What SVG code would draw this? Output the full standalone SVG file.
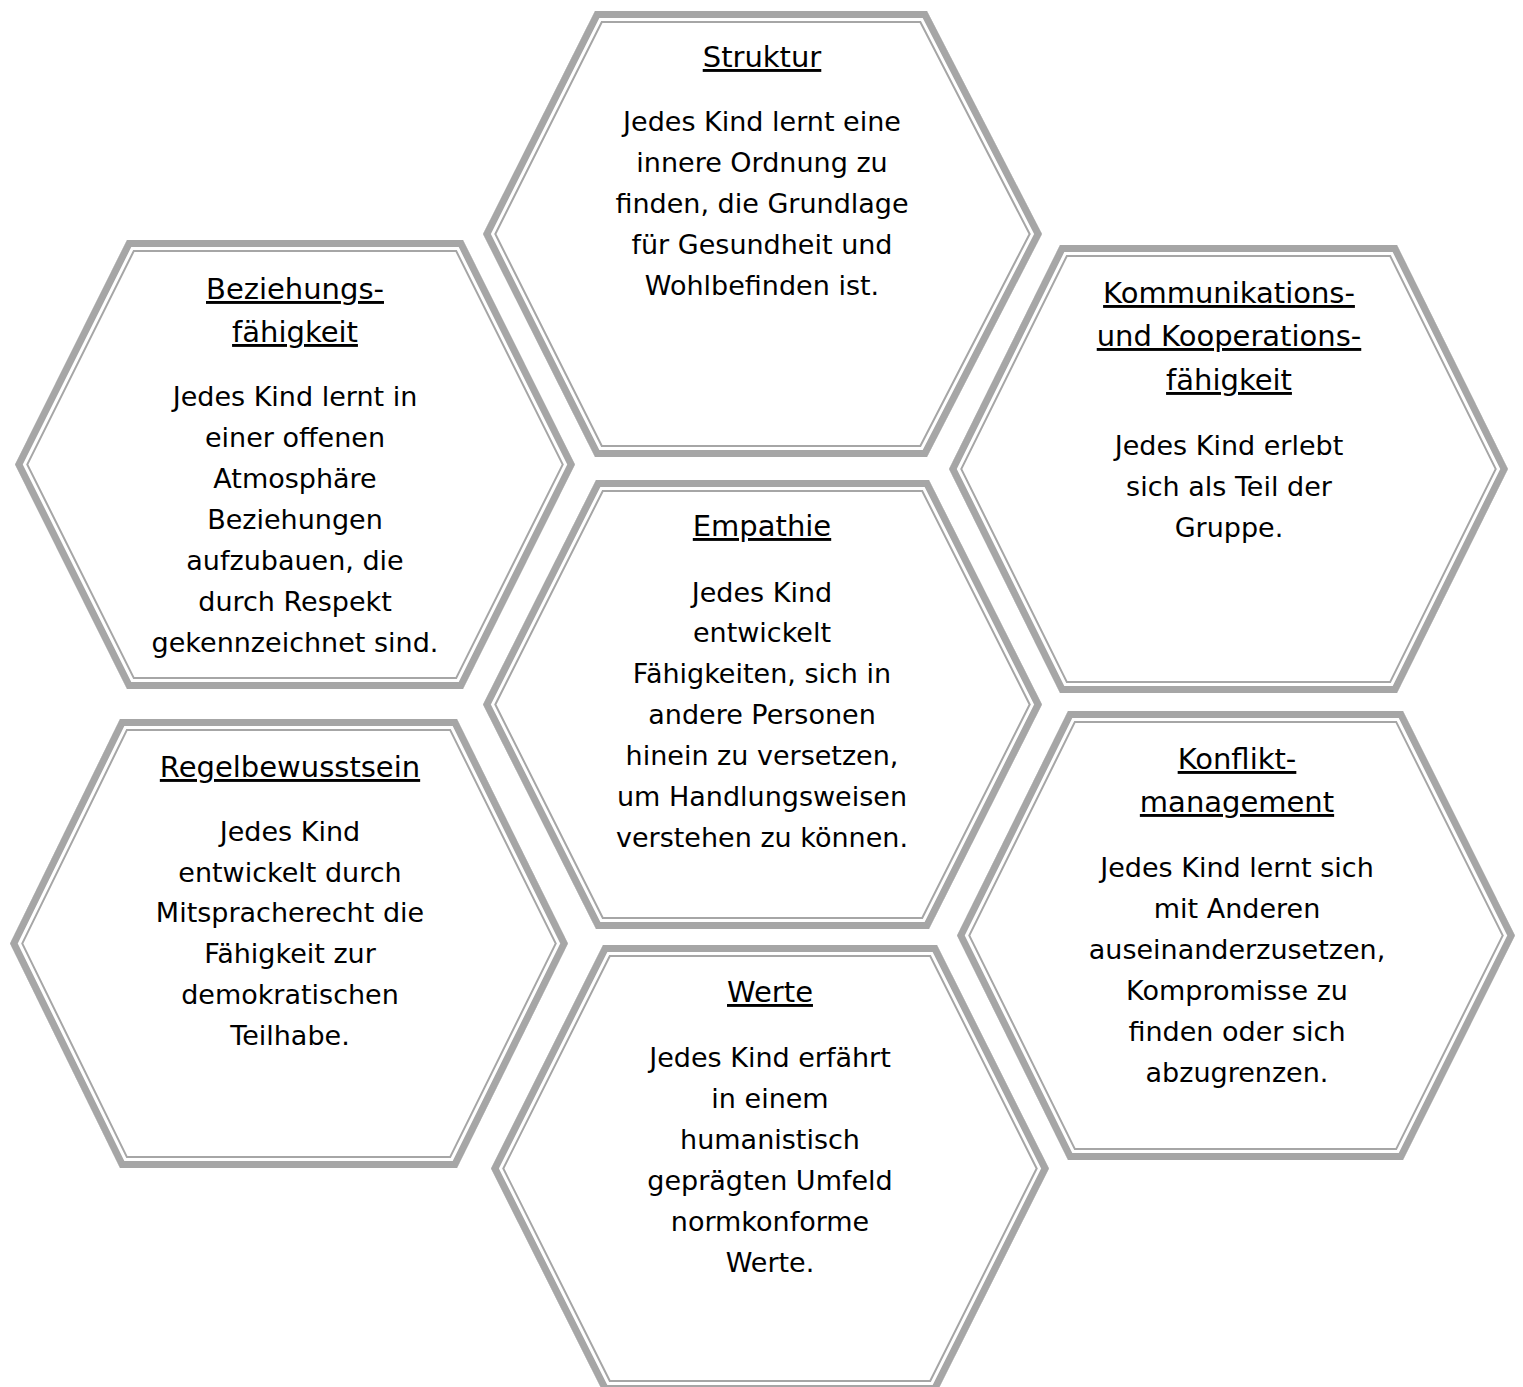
<svg xmlns="http://www.w3.org/2000/svg" xmlns:xlink="http://www.w3.org/1999/xlink" width="1523" height="1387" viewBox="0 0 1523 1387">
<style>
.bg{fill:#fff}
.f{fill:#fff;stroke:none}
.s1{fill:none;stroke:#a6a6a6;stroke-width:24;stroke-linejoin:miter}
.s2{fill:none;stroke:#fff;stroke-width:20;stroke-linejoin:miter}
.s3{fill:none;stroke:#a6a6a6;stroke-width:14;stroke-linejoin:miter}
text{font-family:"DejaVu Sans","Liberation Sans",sans-serif;font-size:27px;fill:#000;text-anchor:middle}
.h{text-decoration:underline;font-size:29px}
</style>
<defs>
<polygon id="p1" points="595,11 927,11 1042,234 927,457 595,457 483,234"/>
<polygon id="p2" points="127,240 463,240 575,464.5 463,689 127,689 15,464.5"/>
<polygon id="p3" points="1060,245 1397,245 1508,469 1397,693 1060,693 949,469"/>
<polygon id="p4" points="596,480 929,480 1042,704.5 929,929 596,929 483,704.5"/>
<polygon id="p5" points="120,719 457,719 568,943.5 457,1168 120,1168 10,943.5"/>
<polygon id="p6" points="1068,711 1403,711 1515,935.5 1403,1160 1068,1160 957,935.5"/>
<polygon id="p7" points="603,945 937,945 1049,1168.5 937,1392 603,1392 491,1168.5"/>
<clipPath id="c1"><use xlink:href="#p1"/></clipPath>
<clipPath id="c2"><use xlink:href="#p2"/></clipPath>
<clipPath id="c3"><use xlink:href="#p3"/></clipPath>
<clipPath id="c4"><use xlink:href="#p4"/></clipPath>
<clipPath id="c5"><use xlink:href="#p5"/></clipPath>
<clipPath id="c6"><use xlink:href="#p6"/></clipPath>
<clipPath id="c7"><use xlink:href="#p7"/></clipPath>
</defs>
<rect class="bg" x="0" y="0" width="1523" height="1387"/>
<g id="connectors"></g>

<g id="struktur">
<use xlink:href="#p1" class="f"/>
<g clip-path="url(#c1)"><use xlink:href="#p1" class="s1"/><use xlink:href="#p1" class="s2"/><use xlink:href="#p1" class="s3"/></g>
<text x="762" y="67" class="h">Struktur</text>
<text x="762" y="131">Jedes Kind lernt eine</text>
<text x="762" y="172">innere Ordnung zu</text>
<text x="762" y="213">finden, die Grundlage</text>
<text x="762" y="254">für Gesundheit und</text>
<text x="762" y="295">Wohlbefinden ist.</text>
</g>

<g id="beziehung">
<use xlink:href="#p2" class="f"/>
<g clip-path="url(#c2)"><use xlink:href="#p2" class="s1"/><use xlink:href="#p2" class="s2"/><use xlink:href="#p2" class="s3"/></g>
<text x="295" y="299" class="h">Beziehungs-</text>
<text x="295" y="342" class="h">fähigkeit</text>
<text x="295" y="406">Jedes Kind lernt in</text>
<text x="295" y="447">einer offenen</text>
<text x="295" y="488">Atmosphäre</text>
<text x="295" y="529">Beziehungen</text>
<text x="295" y="570">aufzubauen, die</text>
<text x="295" y="611">durch Respekt</text>
<text x="295" y="652">gekennzeichnet sind.</text>
</g>

<g id="kommunikation">
<use xlink:href="#p3" class="f"/>
<g clip-path="url(#c3)"><use xlink:href="#p3" class="s1"/><use xlink:href="#p3" class="s2"/><use xlink:href="#p3" class="s3"/></g>
<text x="1229" y="303" class="h">Kommunikations-</text>
<text x="1229" y="346" class="h">und Kooperations-</text>
<text x="1229" y="390" class="h">fähigkeit</text>
<text x="1229" y="455">Jedes Kind erlebt</text>
<text x="1229" y="496">sich als Teil der</text>
<text x="1229" y="537">Gruppe.</text>
</g>

<g id="empathie">
<use xlink:href="#p4" class="f"/>
<g clip-path="url(#c4)"><use xlink:href="#p4" class="s1"/><use xlink:href="#p4" class="s2"/><use xlink:href="#p4" class="s3"/></g>
<text x="762" y="536" class="h">Empathie</text>
<text x="762" y="602">Jedes Kind</text>
<text x="762" y="642">entwickelt</text>
<text x="762" y="683">Fähigkeiten, sich in</text>
<text x="762" y="724">andere Personen</text>
<text x="762" y="765">hinein zu versetzen,</text>
<text x="762" y="806">um Handlungsweisen</text>
<text x="762" y="847">verstehen zu können.</text>
</g>

<g id="regel">
<use xlink:href="#p5" class="f"/>
<g clip-path="url(#c5)"><use xlink:href="#p5" class="s1"/><use xlink:href="#p5" class="s2"/><use xlink:href="#p5" class="s3"/></g>
<text x="290" y="777" class="h">Regelbewusstsein</text>
<text x="290" y="841">Jedes Kind</text>
<text x="290" y="882">entwickelt durch</text>
<text x="290" y="922">Mitspracherecht die</text>
<text x="290" y="963">Fähigkeit zur</text>
<text x="290" y="1004">demokratischen</text>
<text x="290" y="1045">Teilhabe.</text>
</g>

<g id="konflikt">
<use xlink:href="#p6" class="f"/>
<g clip-path="url(#c6)"><use xlink:href="#p6" class="s1"/><use xlink:href="#p6" class="s2"/><use xlink:href="#p6" class="s3"/></g>
<text x="1237" y="769" class="h">Konflikt-</text>
<text x="1237" y="812" class="h">management</text>
<text x="1237" y="877">Jedes Kind lernt sich</text>
<text x="1237" y="918">mit Anderen</text>
<text x="1237" y="959">auseinanderzusetzen,</text>
<text x="1237" y="1000">Kompromisse zu</text>
<text x="1237" y="1041">finden oder sich</text>
<text x="1237" y="1082">abzugrenzen.</text>
</g>

<g id="werte">
<use xlink:href="#p7" class="f"/>
<g clip-path="url(#c7)"><use xlink:href="#p7" class="s1"/><use xlink:href="#p7" class="s2"/><use xlink:href="#p7" class="s3"/></g>
<text x="770" y="1002" class="h">Werte</text>
<text x="770" y="1067">Jedes Kind erfährt</text>
<text x="770" y="1108">in einem</text>
<text x="770" y="1149">humanistisch</text>
<text x="770" y="1190">geprägten Umfeld</text>
<text x="770" y="1231">normkonforme</text>
<text x="770" y="1272">Werte.</text>
</g>
</svg>
